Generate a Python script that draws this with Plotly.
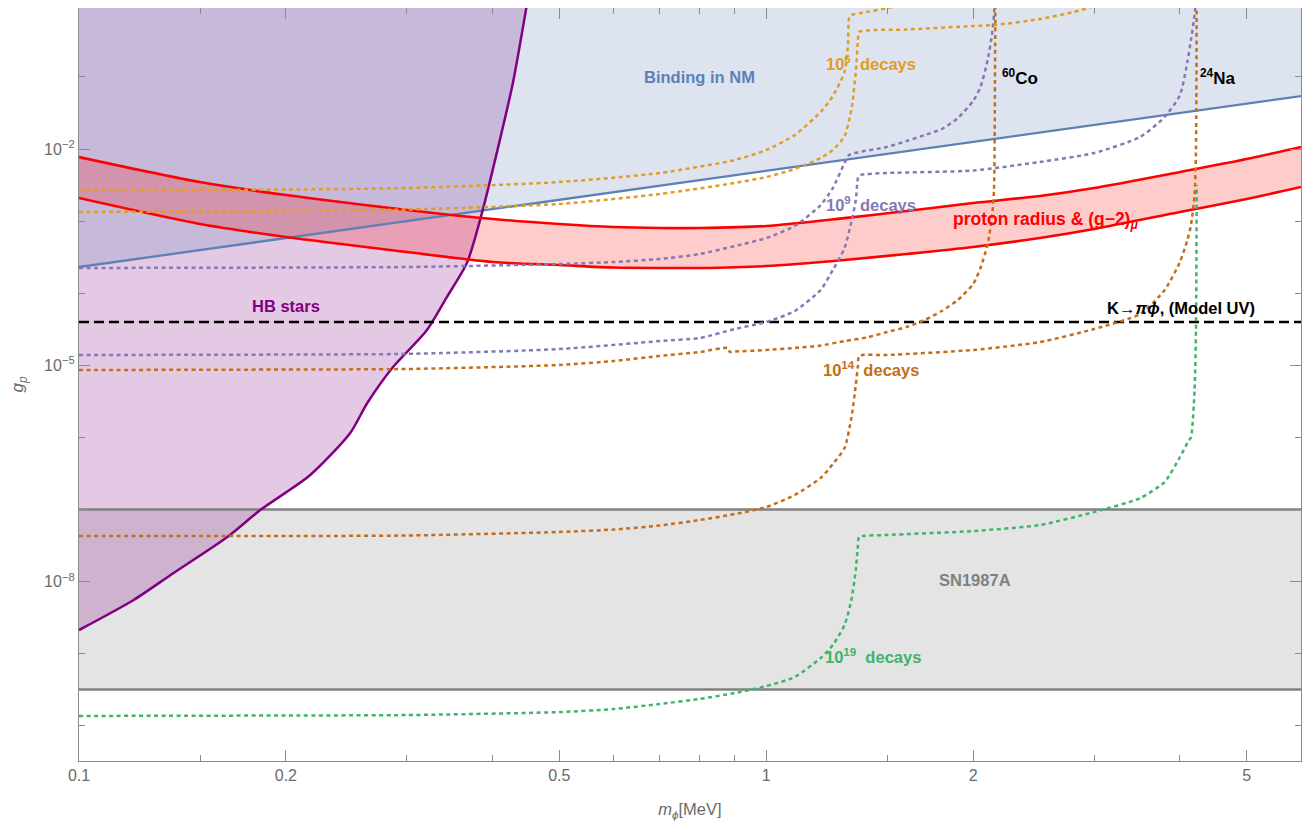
import math
import plotly.graph_objects as go

# ---------------- data (m in MeV, g dimensionless) ----------------
# Binding in nuclear matter boundary
m_NM = [0.1, 0.2, 0.5, 1.0, 2.0, 6.0]
g_NM = [2.31e-4, 5.83e-4, 1.96e-3, 4.95e-3, 1.25e-2, 5.43e-2]

# proton radius & (g-2)_mu band
m_red = [0.1, 0.15, 0.2, 0.3, 0.4, 0.5, 0.6, 0.7, 0.8, 1.0, 1.3, 1.6, 2.0, 2.5, 3.0, 4.0, 5.0, 6.0]
g_red_hi = [7.74e-3, 3.48e-3, 2.30e-3, 1.43e-3, 1.07e-3, 9.12e-4, 8.28e-4, 8.02e-4, 8.02e-4, 8.55e-4,
            1.10e-3, 1.38e-3, 1.78e-3, 2.23e-3, 2.88e-3, 4.80e-3, 7.26e-3, 1.07e-2]
g_red_lo = [2.09e-3, 9.12e-4, 6.02e-4, 3.73e-4, 2.71e-4, 2.46e-4, 2.27e-4, 2.24e-4, 2.24e-4, 2.38e-4,
            2.89e-4, 3.50e-4, 4.38e-4, 5.83e-4, 7.77e-4, 1.34e-3, 2.03e-3, 2.97e-3]

# HB stars boundary
m_HB = [0.100, 0.1201, 0.1373, 0.1644, 0.1836, 0.2170, 0.2481, 0.2627, 0.2864, 0.3209,
        0.3430, 0.3668, 0.3857, 0.4096, 0.4279, 0.4484]
g_HB = [2.13e-9, 5.56e-9, 1.32e-8, 4.16e-8, 9.84e-8, 3.01e-7, 1.15e-6, 3.00e-6, 9.47e-6, 3.09e-5,
        8.85e-5, 2.62e-4, 1.29e-3, 1.33e-2, 8.23e-2, 1.0]

# SN1987A band and K -> pi phi line
m_span = [0.1, 6.0]
g_SN_hi = 1.0e-7
g_SN_lo = 3.2e-10
g_K = 4.0e-5

# 10^6 decays
m_G1 = [0.1, 0.2, 0.3, 0.5, 0.7, 0.9, 1.0, 1.1, 1.2, 1.25, 1.3, 1.315, 1.32, 1.33, 1.4, 1.5, 1.6, 1.7]
g_G1 = [2.70e-3, 2.74e-3, 2.88e-3, 3.48e-3, 4.65e-3, 7.04e-3, 9.69e-3, 1.56e-2, 3.26e-2, 5.43e-2,
        1.17e-1, 2.77e-1, 6.56e-1, 7.22e-1, 7.94e-1, 9.03e-1, 1.03, 1.2]
m_G2 = [0.1, 0.2, 0.3, 0.5, 0.7, 0.9, 1.0, 1.1, 1.2, 1.25, 1.3, 1.33, 1.35, 1.36, 1.365, 1.6, 2.0,
        2.15, 2.5, 2.8, 3.0, 3.2]
g_G2 = [1.34e-3, 1.38e-3, 1.45e-3, 1.73e-3, 2.38e-3, 3.38e-3, 4.09e-3, 5.28e-3, 7.50e-3, 9.69e-3,
        1.51e-2, 3.48e-2, 1.17e-1, 3.25e-1, 4.20e-1, 4.54e-1, 5.08e-1, 5.25e-1, 6.35e-1, 7.94e-1,
        9.62e-1, 1.24]

# 10^9 decays
m_P1 = [0.1, 0.2, 0.3, 0.5, 0.6, 0.7, 0.8, 0.9, 1.0, 1.1, 1.2, 1.25, 1.3, 1.32, 1.5, 1.6, 1.7, 1.8,
        1.9, 2.0, 2.05, 2.1, 2.13, 2.145, 2.15]
g_P1 = [2.24e-4, 2.27e-4, 2.31e-4, 2.54e-4, 2.71e-4, 2.98e-4, 3.50e-4, 4.51e-4, 5.83e-4, 8.55e-4,
        1.67e-3, 2.88e-3, 6.40e-3, 8.26e-3, 1.07e-2, 1.29e-2, 1.56e-2, 1.89e-2, 2.69e-2, 4.63e-2,
        7.24e-2, 1.72e-1, 3.81e-1, 7.22e-1, 1.17]
m_P2 = [0.1, 0.2, 0.3, 0.5, 0.7, 0.8, 0.9, 1.0, 1.1, 1.2, 1.25, 1.3, 1.33, 1.35, 1.36, 1.37, 1.5,
        2.0, 2.5, 3.0, 3.5, 3.8, 4.0, 4.1, 4.15, 4.2, 4.22]
g_P2 = [1.39e-5, 1.41e-5, 1.44e-5, 1.68e-5, 2.17e-5, 2.39e-5, 3.19e-5, 3.99e-5, 5.66e-5, 1.11e-4,
        2.10e-4, 4.24e-4, 9.72e-4, 1.96e-3, 3.96e-3, 4.36e-3, 4.65e-3, 5.03e-3, 6.61e-3, 8.80e-3,
        1.47e-2, 2.78e-2, 5.61e-2, 1.61e-1, 3.25e-1, 7.22e-1, 1.17]

# 10^14 decays
m_B1 = [0.1, 0.2, 0.3, 0.5, 0.6, 0.7, 0.8, 0.88, 0.885, 0.9, 1.0, 1.1, 1.2, 1.3, 1.4, 1.5, 1.6, 1.7,
        1.8, 1.9, 2.0, 2.05, 2.1, 2.13, 2.145, 2.15, 2.155]
g_B1 = [8.61e-6, 8.74e-6, 8.89e-6, 1.01e-5, 1.15e-5, 1.35e-5, 1.53e-5, 1.74e-5, 1.53e-5, 1.55e-5,
        1.63e-5, 1.74e-5, 1.88e-5, 2.17e-5, 2.43e-5, 2.90e-5, 3.40e-5, 4.25e-5, 5.66e-5, 8.05e-5,
        1.34e-4, 2.24e-4, 4.81e-4, 1.10e-3, 2.70e-3, 1.83e-2, 1.17]
m_B2 = [0.1, 0.2, 0.3, 0.5, 0.6, 0.7, 0.8, 0.9, 1.0, 1.1, 1.2, 1.25, 1.3, 1.33, 1.35, 1.36, 1.365,
        1.5, 2.0, 2.5, 3.0, 3.5, 3.8, 4.0, 4.1, 4.15, 4.2, 4.22, 4.23]
g_B2 = [4.29e-8, 4.29e-8, 4.36e-8, 4.88e-8, 5.28e-8, 6.00e-8, 7.15e-8, 8.66e-8, 1.08e-7, 1.59e-7,
        2.74e-7, 4.28e-7, 7.13e-7, 1.86e-6, 5.33e-6, 1.01e-5, 1.35e-5, 1.39e-5, 1.63e-5, 2.10e-5,
        3.19e-5, 5.15e-5, 1.11e-4, 2.71e-4, 5.47e-4, 8.83e-4, 2.30e-3, 9.69e-3, 1.17]

# 10^19 decays
m_Gr = [0.1, 0.2, 0.3, 0.5, 0.6, 0.7, 0.8, 0.9, 1.0, 1.1, 1.2, 1.25, 1.3, 1.33, 1.35, 1.36, 1.365,
        1.5, 2.0, 2.5, 3.0, 3.5, 3.8, 4.0, 4.1, 4.15, 4.2, 4.22, 4.23]
g_Gr = [1.37e-10, 1.39e-10, 1.41e-10, 1.55e-10, 1.71e-10, 2.01e-10, 2.36e-10, 2.85e-10, 3.56e-10,
        4.75e-10, 8.72e-10, 1.32e-9, 2.50e-9, 5.56e-9, 1.45e-8, 3.22e-8, 4.16e-8, 4.43e-8, 5.03e-8,
        6.10e-8, 9.23e-8, 1.44e-7, 2.41e-7, 5.35e-7, 8.36e-7, 1.01e-6, 4.54e-6, 3.09e-5, 3.17e-3]

# axis ticks
x_major = [0.1, 0.2, 0.5, 1, 2, 5]
x_major_text = ["0.1", "0.2", "0.5", "1", "2", "5"]
x_minor = [0.15, 0.3, 0.4, 0.6, 0.7, 0.8, 0.9, 1.5, 3, 4]
y_major = [1e-2, 1e-5, 1e-8]
y_major_text = ["10<sup>−2</sup>", "10<sup>−5</sup>", "10<sup>−8</sup>"]
y_minor = [1e-1, 1e-3, 1e-4, 1e-6, 1e-7, 1e-9, 1e-10]

# ---------------- styling ----------------
FONT = "Liberation Sans, Arial, sans-serif"
GOLD = "#E19C24"
PURP = "#8778B3"
BROWN = "#C56E1A"
GREEN = "#3DB56B"
BLUE = "#5E81B5"
HBC = "#800080"
GRAY = "#808080"
TOP = 1.0

fig = go.Figure()


def add(xs, ys, color=None, width=2.5, dash=None, shape="linear", smooth=1.0, fill=None,
        fillcolor=None):
    fig.add_trace(go.Scatter(
        x=xs, y=ys, mode="lines", fill=fill, fillcolor=fillcolor,
        line=dict(color=color, width=width, dash=dash, shape=shape,
                  smoothing=smooth if shape == "spline" else None),
        hoverinfo="skip", showlegend=False))


# ---- fills ----
add(m_span, [g_SN_hi, g_SN_hi], width=0)
add(m_span, [g_SN_lo, g_SN_lo], width=0, fill="tonexty", fillcolor="rgba(128,128,128,0.21)")
add([m_HB[0], m_HB[0]], [g_HB[0], TOP], width=0)
add(m_HB, g_HB, width=0, shape="spline", smooth=0.7, fill="tonextx",
    fillcolor="rgba(128,0,128,0.21)")
add(m_span, [TOP, TOP], width=0)
add(m_NM, g_NM, width=0, fill="tonexty", fillcolor="rgba(94,129,181,0.21)")
add(m_red, g_red_hi, width=0, shape="spline", smooth=0.8)
add(m_red, g_red_lo, width=0, shape="spline", smooth=0.8, fill="tonexty",
    fillcolor="rgba(255,0,0,0.2)")

# ---- solid boundaries ----
add(m_span, [g_SN_hi, g_SN_hi], GRAY, 2.5)
add(m_span, [g_SN_lo, g_SN_lo], GRAY, 2.5)
add(m_NM, g_NM, BLUE, 2.3)
add(m_HB, g_HB, HBC, 2.5, shape="spline", smooth=0.7)
add(m_red, g_red_hi, "#FF0000", 2.6, shape="spline", smooth=0.8)
add(m_red, g_red_lo, "#FF0000", 2.6, shape="spline", smooth=0.8)
add(m_span, [g_K, g_K], "#000000", 2.5, "10px,5px")

# ---- dotted decay curves ----
DOT = "4px,3.5px"
for mm, gg, col in [(m_Gr, g_Gr, GREEN), (m_B2, g_B2, BROWN), (m_B1, g_B1, BROWN),
                    (m_P1, g_P1, PURP), (m_P2, g_P2, PURP), (m_G1, g_G1, GOLD),
                    (m_G2, g_G2, GOLD)]:
    add(mm, gg, col, 2.5, DOT, shape="spline", smooth=0.6)

# ---- labels ----
labels = [
    ("<b>Binding in NM</b>", 0.80, 0.100, BLUE, 16.5),
    ("<b>HB stars</b>", 0.200, 6.65e-5, HBC, 16.5),
    ("<b>10<sup>6</sup>\u00a0\u00a0decays</b>", 1.42, 0.158, GOLD, 16.5),
    ("<b>10<sup>9</sup>\u00a0\u00a0decays</b>", 1.42, 1.75e-3, PURP, 16.5),
    ("<b>10<sup>14</sup>\u00a0\u00a0decays</b>", 1.42, 9.0e-6, BROWN, 16.5),
    ("<b>10<sup>19</sup>\u00a0\u00a0decays</b>", 1.43, 9.4e-10, GREEN, 16.5),
    ("<b>proton\u00a0radius\u00a0&amp;\u00a0(g−2)<sub><i>μ</i></sub></b>", 2.55, 1.03e-3,
     "#FF0000", 17.5),
    ("<b><sup>60</sup>Co</b>", 2.34, 0.100, "#000000", 17),
    ("<b><sup>24</sup>Na</b>", 4.55, 0.100, "#000000", 17),
    ("<b>K→<i>πϕ</i>, (Model UV)</b>", 4.02, 6.3e-5, "#000000", 16.5),
    ("<b>SN1987A</b>", 2.01, 1.05e-8, GRAY, 16.5),
]
for txt, mx, gy, col, fs in labels:
    fig.add_annotation(x=math.log10(mx), y=math.log10(gy), text=txt, showarrow=False,
                       xanchor="center", yanchor="middle",
                       font=dict(family=FONT, size=fs, color=col))

axis_common = dict(
    type="log", ticks="inside", ticklen=11, tickwidth=1, tickcolor="#8c8c8c",
    showline=True, linecolor="#8c8c8c", linewidth=1.3, mirror="ticks",
    showgrid=False, zeroline=False, automargin=False,
    tickfont=dict(family=FONT, size=16, color="#6a6a6a"),
)

# page body has an 8px default margin; margins below place the frame at the reference spot
fig.update_layout(
    width=1311, height=823,
    margin=dict(l=71, r=18, t=0, b=70),
    paper_bgcolor="white", plot_bgcolor="white",
    showlegend=False,
    xaxis=dict(
        axis_common, range=[-1, math.log10(6.0)],
        tickmode="array", tickvals=x_major, ticktext=x_major_text,
        minor=dict(tickmode="array", tickvals=x_minor, ticklen=6, tickcolor="#8c8c8c",
                   ticks="inside", showgrid=False),
        title=dict(text="<i>m</i><sub><i>ϕ</i></sub>[MeV]", standoff=20,
                   font=dict(family=FONT, size=16.5, color="#6a6a6a")),
    ),
    yaxis=dict(
        axis_common, range=[-10.488, -0.044],
        tickmode="array", tickvals=y_major, ticktext=y_major_text,
        minor=dict(tickmode="array", tickvals=y_minor, ticklen=6, tickcolor="#8c8c8c",
                   ticks="inside", showgrid=False),
        title=dict(text="<i>g</i><sub><i>p</i></sub>", standoff=18,
                   font=dict(family=FONT, size=17, color="#6a6a6a")),
    ),
)

fig.write_html("out.html")
